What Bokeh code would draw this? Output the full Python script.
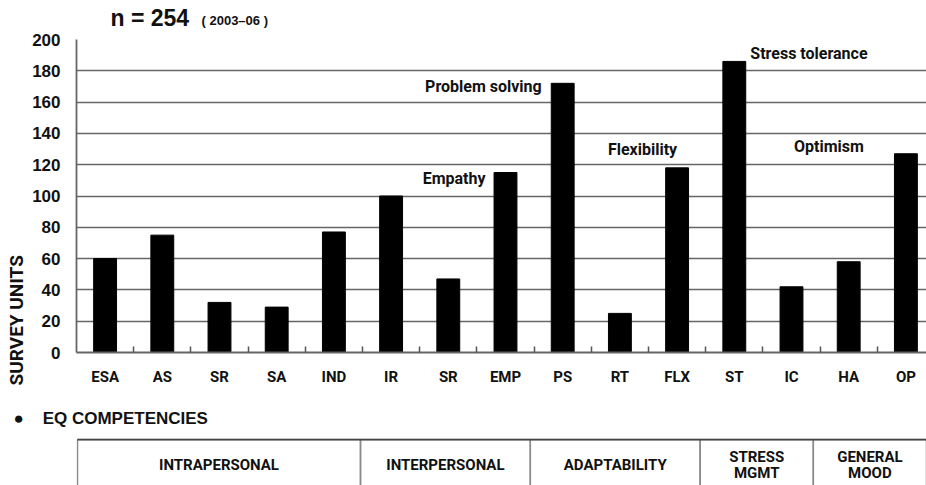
from bokeh.plotting import figure
from bokeh.models import Range1d, FixedTicker, ColumnDataSource, Title
from bokeh.layouts import column
from bokeh.core.properties import value
from bokeh.embed import file_html
from bokeh.resources import INLINE

# ---------------- data ----------------
codes = ["ESA", "AS", "SR", "SA", "IND", "IR", "SR", "EMP", "PS", "RT", "FLX", "ST", "IC", "HA", "OP"]
units = [60, 75, 32, 29, 77, 100, 47, 115, 172, 25, 118, 186, 42, 58, 127]
y_ticks = [0, 20, 40, 60, 80, 100, 120, 140, 160, 180, 200]
ann_index = [7, 8, 10, 11, 14]
ann_text = ["Empathy", "Problem solving", "Flexibility", "Stress tolerance", "Optimism"]
groups = ["INTRAPERSONAL", "INTERPERSONAL", "ADAPTABILITY", "STRESS\nMGMT", "GENERAL\nMOOD"]
group_sizes = [5, 3, 3, 2, 2]
title_main = "n = 254"
title_sub = "( 2003–06 )"
y_title = "SURVEY UNITS"
section_title = "●\u00a0\u00a0\u00a0\u00a0EQ COMPETENCIES"

# ---------------- styles ----------------
BOLD = "Liberation Sans"
NARROW = "Roboto"
W = 926
LEFT = 76
FRAME_W = W - LEFT
BAND = 57.2
ann_align = ["right", "right", "right", "left", "right"]
ann_dx = [-20, -21, 0, 16, -42]
ann_dy = [6, 3, -18, -8, -7]
GRID = "#666666"
INK = "#111111"

common = dict(output_backend="svg", toolbar_location=None, title=None,
              min_border_left=LEFT, min_border_right=0)

# ---------------- header ----------------
h = figure(width=W, height=32, x_range=Range1d(0, FRAME_W), y_range=Range1d(0, 32),
           x_axis_location=None, y_axis_location=None,
           min_border_top=0, min_border_bottom=0, **common)
h.outline_line_color = None
h.grid.visible = False
h.text(x=[34], y=[14.5], text=[title_main], text_font=value(BOLD), text_font_style="bold",
       text_font_size="23px", text_color=INK, text_baseline="middle")
h.text(x=[125], y=[12], text=[title_sub], text_font=value(BOLD), text_font_style="bold",
       text_font_size="13px", text_color=INK, text_baseline="middle")

# ---------------- main chart ----------------
xs = list(range(len(codes)))
p = figure(width=W, height=365, x_range=Range1d(-0.5, -0.5 + FRAME_W / BAND),
           y_range=Range1d(0, 200), min_border_top=7, min_border_bottom=45, **common)
p.outline_line_color = None

p.vbar(x=xs, top=units, width=0.40, fill_color="black", line_color="black")

p.xaxis.ticker = FixedTicker(ticks=xs, minor_ticks=[i + 0.5 for i in range(len(codes) - 1)])
p.xaxis.major_label_overrides = {i: c for i, c in enumerate(codes)}
p.xaxis.major_tick_line_color = None
p.xaxis.major_tick_in = 0
p.xaxis.major_tick_out = 0
p.xaxis.minor_tick_in = 6
p.xaxis.minor_tick_out = 0
p.xaxis.minor_tick_line_color = "#555555"
p.xaxis.minor_tick_line_width = 1.5
p.xaxis.major_label_standoff = 15
p.xaxis.major_label_text_font = NARROW
p.xaxis.major_label_text_font_style = "bold"
p.xaxis.major_label_text_font_size = "15px"
p.xaxis.major_label_text_color = INK
p.xaxis.axis_line_color = GRID
p.xaxis.axis_line_width = 1.8
p.xgrid.visible = False

p.yaxis.ticker = FixedTicker(ticks=y_ticks)
p.yaxis.major_tick_line_color = None
p.yaxis.minor_tick_line_color = None
p.yaxis.major_tick_in = 0
p.yaxis.major_tick_out = 0
p.yaxis.major_label_standoff = 16
p.yaxis.major_label_text_font = BOLD
p.yaxis.major_label_text_font_style = "bold"
p.yaxis.major_label_text_font_size = "17px"
p.yaxis.major_label_text_color = INK
p.yaxis.axis_line_color = GRID
p.yaxis.axis_line_width = 1.8
p.ygrid.grid_line_color = GRID
p.ygrid.grid_line_width = 1.7

src = ColumnDataSource(dict(
    x=ann_index, y=[units[i] for i in ann_index], text=ann_text,
    align=ann_align, dx=ann_dx, dy=ann_dy))
p.text(x="x", y="y", text="text", source=src, text_align="align", x_offset="dx", y_offset="dy",
       text_baseline="middle", text_font=value(NARROW), text_font_style="bold",
       text_font_size="16px", text_color=INK)

p.add_layout(Title(text=y_title, align="left", offset=-33, standoff=4, text_font=NARROW,
                   text_font_style="bold", text_font_size="19px", text_color=INK), "left")

# ---------------- competency table ----------------
unit_px = 56.6
t = figure(width=W, height=88, x_range=Range1d(-1 / unit_px, FRAME_W / unit_px - 1 / unit_px),
           y_range=Range1d(0, 47.5), x_axis_location=None, y_axis_location=None,
           min_border_top=41, min_border_bottom=0, **common)
t.outline_line_color = None
t.grid.visible = False

cum = [0]
for s in group_sizes:
    cum.append(cum[-1] + s)
lefts = cum[:-1]
rights = cum[1:]
mids = [(a + b) / 2 for a, b in zip(lefts, rights)]
t.quad(left=lefts, right=rights, top=46.5, bottom=-10, fill_color=None,
       line_color="#8a8a8a", line_width=1.5)
t.segment(x0=[cum[0]], y0=[46.5], x1=[cum[-1]], y1=[46.5], line_color="#444444", line_width=2)
t.text(x=mids, y=[21] * len(mids), text=groups, text_align="center", text_baseline="middle",
       text_font=value(NARROW), text_font_style="bold", text_font_size="15px",
       text_line_height=0.9, text_color=INK)

t.add_layout(Title(text=section_title, align="left", offset=-63, standoff=18, vertical_align="top",
                   text_font=BOLD, text_font_style="bold", text_font_size="17px",
                   text_color=INK), "above")

layout = column(h, p, t, spacing=0)
open("out.html", "w").write(file_html(layout, INLINE))
